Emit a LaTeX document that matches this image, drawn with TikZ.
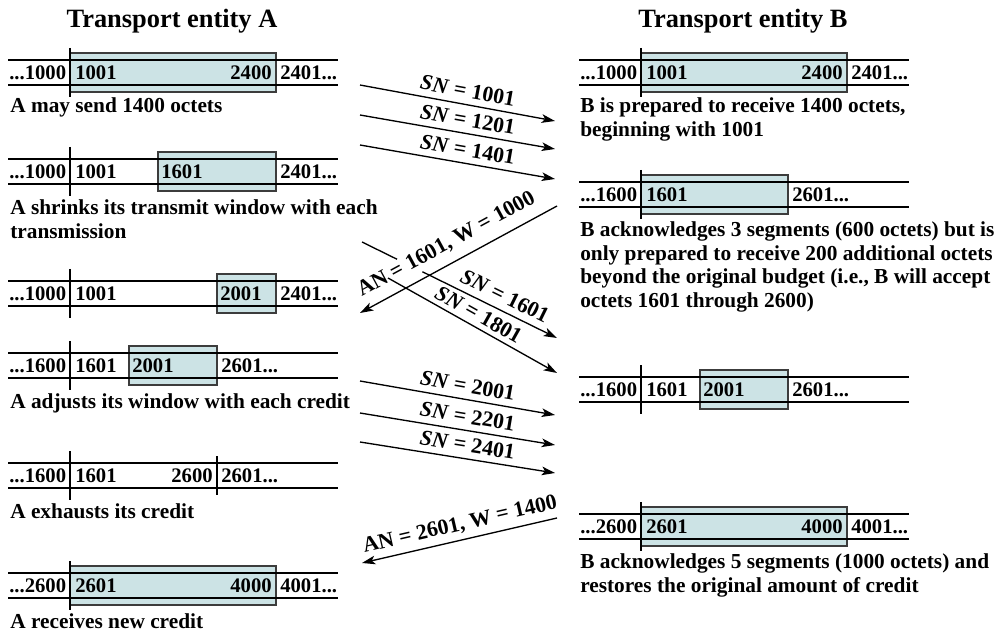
\documentclass[tikz,border=0pt]{standalone}
\usepackage{fontspec}
\setmainfont{Liberation Serif}
\usetikzlibrary{arrows.meta,calc}
\definecolor{winfill}{RGB}{204,227,229}
\definecolor{winedge}{RGB}{60,60,60}
\newcommand\seqrails[2]{%
  \draw[seqline] (#1+8,#2) -- (#1+338,#2);
  \draw[seqline] (#1+8,#2+25) -- (#1+338,#2+25);
  \draw[divider] (#1+70,#2-12) -- (#1+70,#2+37);}
\newcommand\seqwin[4]{%
  \path[window] (#1+#3,#2-7) rectangle (#1+#4,#2+32);}
\begin{document}
\begin{tikzpicture}[x=0.75pt,y=-0.75pt,
  seqline/.style={line width=2pt},
  divider/.style={line width=2pt},
  window/.style={fill=winfill,draw=winedge,line width=1pt},
  num/.style={font=\fontsize{15.5}{18}\selectfont\bfseries,inner sep=0pt},
  caption/.style={font=\fontsize{16}{19}\selectfont\bfseries,inner sep=0pt,anchor=base west},
  title/.style={font=\fontsize{19.8}{23}\selectfont\bfseries,inner sep=0pt,anchor=base},
  msgline/.style={line width=1pt},
  msg/.style={line width=1pt,-{Stealth[length=10pt,width=6.5pt,inset=2.5pt]}},
  msglbl/.style={font=\fontsize{16.4}{19}\selectfont\bfseries,sloped,inner sep=2pt}
]
\useasboundingbox (0,0) rectangle (1004,631);

% titles
\node[title] (tA) at (172,28) {Transport entity A};
\node[title] (tB) at (743,28) {Transport entity B};

% ---------- A side ----------
% A1
\seqwin{0}{60}{70}{276}
\seqrails{0}{60}
\node[num,anchor=base west] (a1n1) at (9,79.5) {...1000};
\node[num,anchor=base west] (a1n2) at (75,79.5) {1001};
\node[num,anchor=base east] (a1n3) at (272,79.5) {2400};
\node[num,anchor=base west] (a1n4) at (280,79.5) {2401...};
\node[caption] (a1c) at (10,113) {A may send 1400 octets};

% A2
\seqwin{0}{159}{158}{276}
\seqrails{0}{159}
\node[num,anchor=base west] (a2n1) at (9,178.5) {...1000};
\node[num,anchor=base west] (a2n2) at (75,178.5) {1001};
\node[num,anchor=base west] (a2n3) at (161,178.5) {1601};
\node[num,anchor=base west] (a2n4) at (280,178.5) {2401...};
\node[caption] (a2c1) at (10,215) {A shrinks its transmit window with each};
\node[caption] (a2c2) at (10,239) {transmission};

% A3
\seqwin{0}{281}{217}{276}
\seqrails{0}{281}
\node[num,anchor=base west] (a3n1) at (9,300.5) {...1000};
\node[num,anchor=base west] (a3n2) at (75,300.5) {1001};
\node[num,anchor=base west] (a3n3) at (220,300.5) {2001};
\node[num,anchor=base west] (a3n4) at (280,300.5) {2401...};

% A4
\seqwin{0}{353}{129}{217}
\seqrails{0}{353}
\node[num,anchor=base west] (a4n1) at (9,372.5) {...1600};
\node[num,anchor=base west] (a4n2) at (75,372.5) {1601};
\node[num,anchor=base west] (a4n3) at (132,372.5) {2001};
\node[num,anchor=base west] (a4n4) at (221,372.5) {2601...};
\node[caption] (a4c) at (10,408) {A adjusts its window with each credit};

% A5
\seqrails{0}{463}
\draw[divider] (217,456) -- (217,495);
\node[num,anchor=base west] (a5n1) at (9,482.5) {...1600};
\node[num,anchor=base west] (a5n2) at (75,482.5) {1601};
\node[num,anchor=base east] (a5n3) at (213,482.5) {2600};
\node[num,anchor=base west] (a5n4) at (221,482.5) {2601...};
\node[caption] (a5c) at (10,518) {A exhausts its credit};

% A6
\seqwin{0}{573}{70}{276}
\seqrails{0}{573}
\node[num,anchor=base west] (a6n1) at (9,592.5) {...2600};
\node[num,anchor=base west] (a6n2) at (75,592.5) {2601};
\node[num,anchor=base east] (a6n3) at (272,592.5) {4000};
\node[num,anchor=base west] (a6n4) at (280,592.5) {4001...};
\node[caption] (a6c) at (10,628) {A receives new credit};

% ---------- B side ----------
% B1
\seqwin{571}{60}{70}{276}
\seqrails{571}{60}
\node[num,anchor=base west] (b1n1) at (580,79.5) {...1000};
\node[num,anchor=base west] (b1n2) at (646,79.5) {1001};
\node[num,anchor=base east] (b1n3) at (843,79.5) {2400};
\node[num,anchor=base west] (b1n4) at (851,79.5) {2401...};
\node[caption] (b1c1) at (580,113) {B is prepared to receive 1400 octets,};
\node[caption] (b1c2) at (580,137) {beginning with 1001};

% B2
\seqwin{571}{182}{70}{217}
\seqrails{571}{182}
\node[num,anchor=base west] (b2n1) at (580,201.5) {...1600};
\node[num,anchor=base west] (b2n2) at (646,201.5) {1601};
\node[num,anchor=base west] (b2n3) at (792,201.5) {2601...};
\node[caption] (b2c1) at (580,237) {B acknowledges 3 segments (600 octets) but is};
\node[caption] (b2c2) at (580,261) {only prepared to receive 200 additional octets};
\node[caption] (b2c3) at (580,284) {beyond the original budget (i.e., B will accept};
\node[caption] (b2c4) at (580,307) {octets 1601 through 2600)};

% B3
\seqwin{571}{377}{129}{217}
\seqrails{571}{377}
\node[num,anchor=base west] (b3n1) at (580,396.5) {...1600};
\node[num,anchor=base west] (b3n2) at (646,396.5) {1601};
\node[num,anchor=base west] (b3n3) at (703,396.5) {2001};
\node[num,anchor=base west] (b3n4) at (792,396.5) {2601...};

% B4
\seqwin{571}{514}{70}{276}
\seqrails{571}{514}
\node[num,anchor=base west] (b4n1) at (580,533.5) {...2600};
\node[num,anchor=base west] (b4n2) at (646,533.5) {2601};
\node[num,anchor=base east] (b4n3) at (843,533.5) {4000};
\node[num,anchor=base west] (b4n4) at (851,533.5) {4001...};
\node[caption] (b4c1) at (580,568) {B acknowledges 5 segments (1000 octets) and};
\node[caption] (b4c2) at (580,592) {restores the original amount of credit};

% ---------- messages ----------
\coordinate (s1a) at (360,85);  \coordinate (s1b) at (555,121);
\coordinate (s2a) at (360,115); \coordinate (s2b) at (555,149);
\coordinate (s3a) at (360,145); \coordinate (s3b) at (555,179);
\coordinate (k1a) at (557,206); \coordinate (k1b) at (360,313);
\coordinate (s4a) at (362,242); \coordinate (s4b) at (557,338);
\coordinate (s5a) at (388,278); \coordinate (s5b) at (557,373);
\coordinate (s6a) at (360,381); \coordinate (s6b) at (555,415);
\coordinate (s7a) at (360,413); \coordinate (s7b) at (555,445);
\coordinate (s8a) at (360,442); \coordinate (s8b) at (555,473);
\coordinate (k2a) at (557,518); \coordinate (k2b) at (362,563);

\draw[msg] (s1a) -- node[msglbl,above=2.5pt,pos=0.54] (l1) {\textit{SN} = 1001} (s1b);
\draw[msg] (s2a) -- node[msglbl,above=2.5pt,pos=0.54] (l2) {\textit{SN} = 1201} (s2b);
\draw[msg] (s3a) -- node[msglbl,above=2.5pt,pos=0.54] (l3) {\textit{SN} = 1401} (s3b);
\draw[msg] (k1a) -- node[msglbl,above=5pt,pos=0.515] (l4) {AN = 1601, W = 1000} (k1b);
\draw[msgline] (s4a) -- ($(s4a)!0.18!(s4b)$);
\draw[msg] ($(s4a)!0.31!(s4b)$) -- node[msglbl,above=3pt,pos=0.565] (l5) {\textit{SN} = 1601} (s4b);
\draw[msg] (s5a) -- node[msglbl,above=1.5pt,pos=0.5] (l6) {\textit{SN} = 1801} (s5b);
\draw[msg] (s6a) -- node[msglbl,above=2.5pt,pos=0.54] (l7) {\textit{SN} = 2001} (s6b);
\draw[msg] (s7a) -- node[msglbl,above=2.5pt,pos=0.54] (l8) {\textit{SN} = 2201} (s7b);
\draw[msg] (s8a) -- node[msglbl,above=2.5pt,pos=0.54] (l9) {\textit{SN} = 2401} (s8b);
\draw[msg] (k2a) -- node[msglbl,above=2pt,pos=0.48] (l10) {AN = 2601, W = 1400} (k2b);
\end{tikzpicture}
\end{document}
